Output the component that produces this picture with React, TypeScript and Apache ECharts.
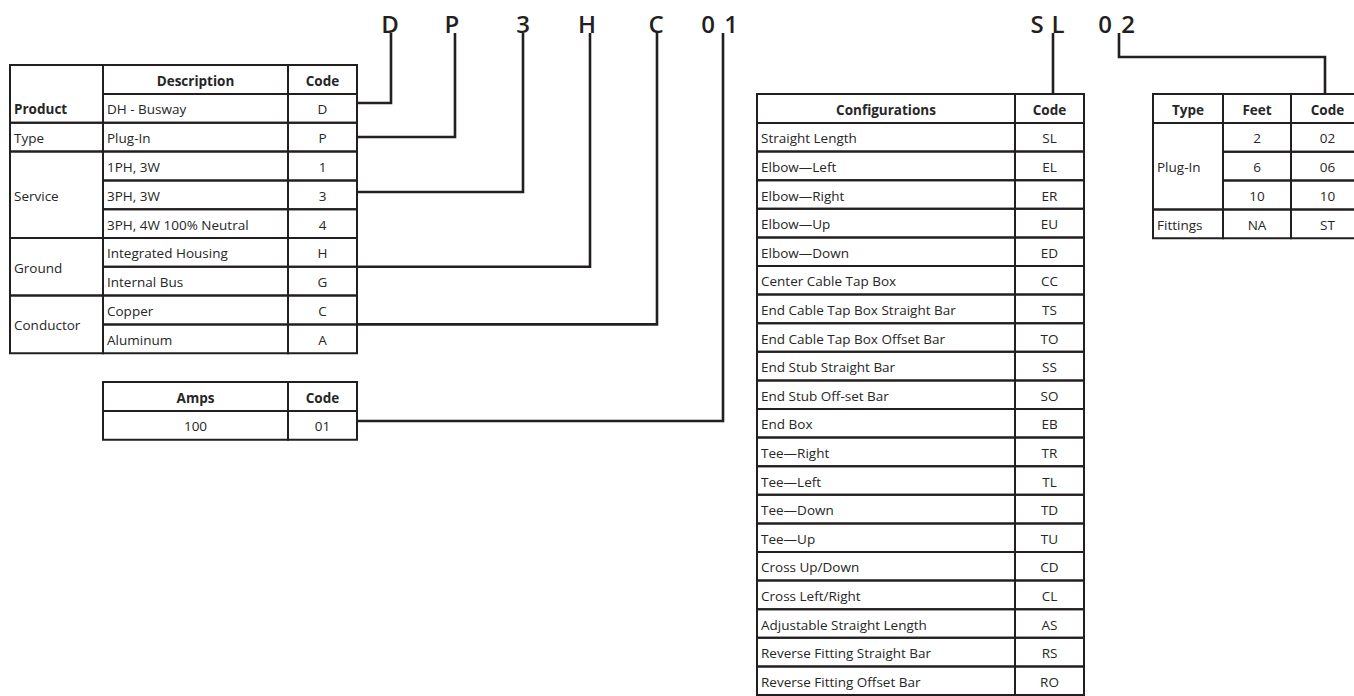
import React, { useEffect, useRef } from "react";
import * as echarts from "echarts";

// ---------- data ----------
const partNumberChars = ["D", "P", "3", "H", "C", "0", "1", "S", "L", "0", "2"];

const mainHeader = ["Description", "Code"];
const mainGroups = ["Product", "Type", "Service", "Ground", "Conductor"];
const mainGroupSizes = [1, 1, 3, 2, 2];
const mainDescriptions = [
  "DH - Busway",
  "Plug-In",
  "1PH, 3W",
  "3PH, 3W",
  "3PH, 4W 100% Neutral",
  "Integrated Housing",
  "Internal Bus",
  "Copper",
  "Aluminum",
];
const mainCodes = ["D", "P", "1", "3", "4", "H", "G", "C", "A"];

const ampsHeader = ["Amps", "Code"];
const ampsValues = ["100"];
const ampsCodes = ["01"];

const configHeader = ["Configurations", "Code"];
const configNames = [
  "Straight Length",
  "Elbow\u2014Left",
  "Elbow\u2014Right",
  "Elbow\u2014Up",
  "Elbow\u2014Down",
  "Center Cable Tap Box",
  "End Cable Tap Box Straight Bar",
  "End Cable Tap Box Offset Bar",
  "End Stub Straight Bar",
  "End Stub Off-set Bar",
  "End Box",
  "Tee\u2014Right",
  "Tee\u2014Left",
  "Tee\u2014Down",
  "Tee\u2014Up",
  "Cross Up/Down",
  "Cross Left/Right",
  "Adjustable Straight Length",
  "Reverse Fitting Straight Bar",
  "Reverse Fitting Offset Bar",
];
const configCodes = [
  "SL", "EL", "ER", "EU", "ED", "CC", "TS", "TO", "SS", "SO",
  "EB", "TR", "TL", "TD", "TU", "CD", "CL", "AS", "RS", "RO",
];

const lengthHeader = ["Type", "Feet", "Code"];
const lengthTypes = ["Plug-In", "Fittings"];
const lengthTypeSizes = [3, 1];
const lengthFeet = ["2", "6", "10", "NA"];
const lengthCodes = ["02", "06", "10", "ST"];

// ---------- layout ----------
const INK = "#231f20";
const TXT = "#262626";
const FONT = "'Open Sans', 'DejaVu Sans', sans-serif";
const CELL_FONT = `400 13.5px ${FONT}`;
const HEAD_FONT = `bold 13.5px ${FONT}`;
const GRID_W = 2;
const LINK_W = 2.6;

const letterX = [390, 452, 523, 587, 656, 708, 731, 1037, 1058, 1105, 1128];
const letterY = 23;

const mainCols = [10, 103, 288, 357];
const mainTop = 65;
const headH = 29;
const rowH = 28.8;

const ampsCols = [103, 288, 357];
const ampsTop = 382;

const configCols = [757, 1015, 1084];
const configTop = 94;
const configRowH = 28.6;

const lengthCols = [1153, 1223, 1291, 1364];
const lengthTop = 94;

type Pt = [number, number];
const connectors: Pt[][] = [
  [[357, 103], [391, 103], [391, 33]],
  [[357, 137], [455, 137], [455, 33]],
  [[357, 192], [523, 192], [523, 33]],
  [[357, 266.8], [590, 266.8], [590, 33]],
  [[357, 324.4], [657, 324.4], [657, 33]],
  [[357, 421], [723, 421], [723, 33]],
  [[1053, 33], [1053, 94]],
  [[1119, 33], [1119, 57], [1325, 57], [1325, 94]],
];

// ---------- helpers ----------
function cellRect(x0: number, y0: number, x1: number, y1: number) {
  return {
    type: "rect",
    shape: { x: x0, y: y0, width: x1 - x0, height: y1 - y0 },
    style: { fill: "none", stroke: INK, lineWidth: GRID_W },
    silent: true,
  };
}

function cellText(
  text: string,
  x0: number,
  y0: number,
  x1: number,
  y1: number,
  align: "left" | "center",
  bold: boolean
) {
  return {
    type: "text",
    style: {
      text,
      x: align === "left" ? x0 + 4 : (x0 + x1) / 2,
      y: (y0 + y1) / 2 + 1,
      align,
      verticalAlign: "middle",
      font: bold ? HEAD_FONT : CELL_FONT,
      fill: TXT,
    },
    silent: true,
  };
}

function buildElements() {
  const els: any[] = [];

  // Part number characters
  partNumberChars.forEach((ch, i) => {
    els.push({
      type: "text",
      style: {
        text: ch,
        x: letterX[i],
        y: letterY,
        align: "center",
        verticalAlign: "middle",
        font: `600 24px ${FONT}`,
        fill: INK,
      },
      silent: true,
    });
  });

  // Main table
  const [c0, c1, c2, c3] = mainCols;
  const rowY = (r: number) => mainTop + headH + r * rowH;
  els.push(cellRect(c1, mainTop, c2, mainTop + headH));
  els.push(cellText(mainHeader[0], c1, mainTop, c2, mainTop + headH, "center", true));
  els.push(cellRect(c2, mainTop, c3, mainTop + headH));
  els.push(cellText(mainHeader[1], c2, mainTop, c3, mainTop + headH, "center", true));
  mainDescriptions.forEach((d, r) => {
    els.push(cellRect(c1, rowY(r), c2, rowY(r + 1)));
    els.push(cellText(d, c1, rowY(r), c2, rowY(r + 1), "left", false));
    els.push(cellRect(c2, rowY(r), c3, rowY(r + 1)));
    els.push(cellText(mainCodes[r], c2, rowY(r), c3, rowY(r + 1), "center", false));
  });
  let start = 0;
  mainGroups.forEach((g, gi) => {
    const end = start + mainGroupSizes[gi];
    const top = gi === 0 ? mainTop : rowY(start);
    els.push(cellRect(c0, top, c1, rowY(end)));
    els.push(cellText(g, c0, rowY(start), c1, rowY(end), "left", gi === 0));
    start = end;
  });

  // Amps table
  const [a0, a1, a2] = ampsCols;
  els.push(cellRect(a0, ampsTop, a1, ampsTop + headH));
  els.push(cellText(ampsHeader[0], a0, ampsTop, a1, ampsTop + headH, "center", true));
  els.push(cellRect(a1, ampsTop, a2, ampsTop + headH));
  els.push(cellText(ampsHeader[1], a1, ampsTop, a2, ampsTop + headH, "center", true));
  ampsValues.forEach((v, r) => {
    const y0 = ampsTop + headH + r * rowH;
    const y1 = y0 + rowH;
    els.push(cellRect(a0, y0, a1, y1));
    els.push(cellText(v, a0, y0, a1, y1, "center", false));
    els.push(cellRect(a1, y0, a2, y1));
    els.push(cellText(ampsCodes[r], a1, y0, a2, y1, "center", false));
  });

  // Configuration table
  const [k0, k1, k2] = configCols;
  els.push(cellRect(k0, configTop, k1, configTop + headH));
  els.push(cellText(configHeader[0], k0, configTop, k1, configTop + headH, "center", true));
  els.push(cellRect(k1, configTop, k2, configTop + headH));
  els.push(cellText(configHeader[1], k1, configTop, k2, configTop + headH, "center", true));
  configNames.forEach((n, r) => {
    const y0 = configTop + headH + r * configRowH;
    const y1 = y0 + configRowH;
    els.push(cellRect(k0, y0, k1, y1));
    els.push(cellText(n, k0, y0, k1, y1, "left", false));
    els.push(cellRect(k1, y0, k2, y1));
    els.push(cellText(configCodes[r], k1, y0, k2, y1, "center", false));
  });

  // Length table
  const [l0, l1, l2, l3] = lengthCols;
  const lRow = (r: number) => lengthTop + headH + r * rowH;
  [[l0, l1], [l1, l2], [l2, l3]].forEach(([x0, x1], i) => {
    els.push(cellRect(x0, lengthTop, x1, lengthTop + headH));
    els.push(cellText(lengthHeader[i], x0, lengthTop, x1, lengthTop + headH, "center", true));
  });
  lengthFeet.forEach((f, r) => {
    els.push(cellRect(l1, lRow(r), l2, lRow(r + 1)));
    els.push(cellText(f, l1, lRow(r), l2, lRow(r + 1), "center", false));
    els.push(cellRect(l2, lRow(r), l3, lRow(r + 1)));
    els.push(cellText(lengthCodes[r], l2, lRow(r), l3, lRow(r + 1), "center", false));
  });
  let ls = 0;
  lengthTypes.forEach((t, ti) => {
    const le = ls + lengthTypeSizes[ti];
    els.push(cellRect(l0, lRow(ls), l1, lRow(le)));
    els.push(cellText(t, l0, lRow(ls), l1, lRow(le), "left", false));
    ls = le;
  });

  // Connectors
  connectors.forEach((pts) => {
    els.push({
      type: "polyline",
      shape: { points: pts },
      style: { fill: "none", stroke: INK, lineWidth: LINK_W, lineJoin: "miter" },
      silent: true,
    });
  });

  return els;
}

export default function App() {
  const ref = useRef<HTMLDivElement>(null);
  useEffect(() => {
    document.body.style.margin = "0";
    if (!ref.current) return;
    const chart = echarts.init(ref.current, undefined, { renderer: "svg" });
    chart.setOption({
      animation: false,
      backgroundColor: "#ffffff",
      graphic: { elements: buildElements() },
    });
    return () => chart.dispose();
  }, []);
  return <div ref={ref} style={{ width: 1354, height: 696 }} />;
}
